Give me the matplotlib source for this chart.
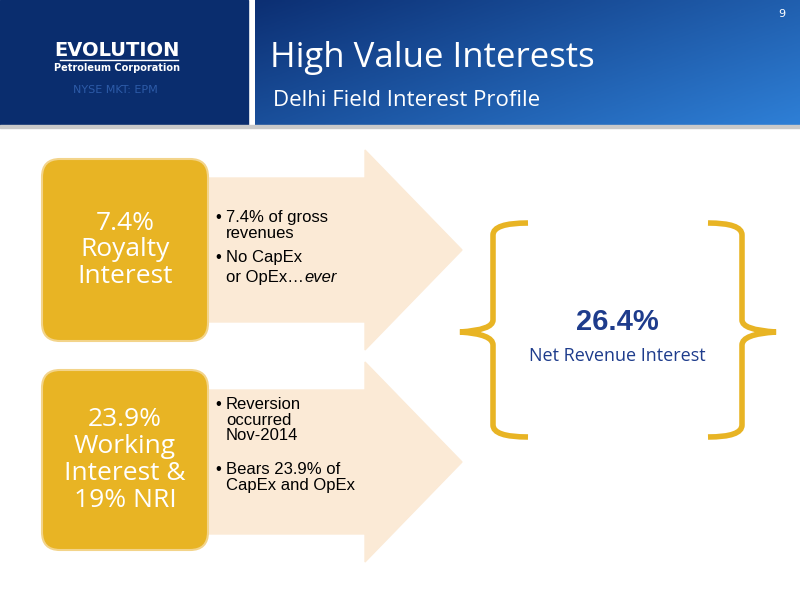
import numpy as np
import matplotlib.pyplot as plt
from matplotlib.patches import Rectangle, FancyBboxPatch, Polygon
from matplotlib.path import Path
from matplotlib.patches import PathPatch

# slide content
title = "High Value Interests"
subtitle = "Delhi Field Interest Profile"
page = "9"
box_labels = ["7.4%\nRoyalty\nInterest", "23.9%\nWorking\nInterest &\n19% NRI"]
bullets = [["7.4% of gross\nrevenues", "No CapEx"],
           ["Reversion\noccurred\nNov-2014", "Bears 23.9% of\nCapEx and OpEx"]]
total_value = "26.4%"
total_label = "Net Revenue Interest"

gold = "#E8B424"
beige = "#FBEAD6"
textblue = "#1E3C8C"

fig = plt.figure(figsize=(8, 6), dpi=100)
ax = fig.add_axes([0, 0, 1, 1])
ax.set_xlim(0, 800)
ax.set_ylim(600, 0)
ax.axis("off")

# header
ax.add_patch(Rectangle((0, 0), 248, 125, color="#0A2D6E"))
grad = np.linspace(0, 1, 200)[None, :] * 0.6 + np.linspace(0, 1, 60)[:, None] * 0.4
ax.imshow(grad, cmap=plt.matplotlib.colors.LinearSegmentedColormap.from_list(
    "g", ["#0C2F73", "#2E7FD6"]), extent=(255, 800, 125, 0), aspect="auto", zorder=1)
ax.add_patch(Rectangle((0, 125), 800, 3, color="#C9C9C9"))
ax.text(117, 50, "EVOLUTION", color="white", fontsize=14, weight="bold", ha="center",
        va="center", family="DejaVu Sans")
ax.plot([60, 178], [60, 60], color="white", lw=1)
ax.text(117, 68, "Petroleum Corporation", color="white", fontsize=7, weight="bold",
        ha="center", va="center")
ax.text(115, 90, "NYSE MKT: EPM", color="#2D5BA8", fontsize=8, ha="center", va="center")
ax.text(270, 58, title, color="white", fontsize=25, ha="left", va="center", zorder=3,
        family="Open Sans")
ax.text(273, 100, subtitle, color="white", fontsize=16, ha="left", va="center", zorder=3,
        family="Open Sans")
ax.text(785, 14, page, color="white", fontsize=8, ha="right", va="center", zorder=3)

# arrows and boxes
tips = [250, 462]
for i, ty in enumerate(tips):
    ax.add_patch(Polygon([(150, ty - 72), (365, ty - 72), (365, ty - 100), (462, ty),
                          (365, ty + 100), (365, ty + 72), (150, ty + 72)],
                         closed=True, color=beige, zorder=2))
    y0 = 157 if i == 0 else 368
    h = 186 if i == 0 else 184
    ax.add_patch(FancyBboxPatch((42, y0 + 2), 166, h - 4, boxstyle="round,pad=0,rounding_size=18",
                                facecolor=gold, edgecolor="#F3D48A", lw=1.5, zorder=3))
    ax.text(125, y0 + h / 2, box_labels[i], color="white", fontsize=19, ha="center",
            va="center", linespacing=1.1, zorder=4, family="Open Sans")

# bullets
by = [(210, 250), (397, 462)]
for i in range(2):
    for j, b in enumerate(bullets[i]):
        ax.text(215, by[i][j], "\u2022", fontsize=12, va="top", ha="left", zorder=4,
                family="Liberation Sans")
        ax.text(226, by[i][j], b, fontsize=12, va="top", ha="left", linespacing=1.05,
                family="Liberation Sans", zorder=4)
t = ax.text(226, 270, "or OpEx\u2026", fontsize=12, va="top", ha="left",
            family="Liberation Sans", zorder=4)
fig.canvas.draw()
bb = t.get_window_extent().transformed(ax.transData.inverted())
ax.text(bb.x1 + 1, 270, "ever", fontsize=12, style="italic", va="top", ha="left",
        family="Liberation Sans", zorder=4)

# braces
def brace(xv, xc, xp):
    verts = [(xc, 223), (xv, 223), (xv, 235), (xv, 320), (xv, 330), (xp, 332),
             (xv, 334), (xv, 345), (xv, 425), (xv, 437), (xc, 437)]
    codes = [Path.MOVETO, Path.CURVE3, Path.CURVE3, Path.LINETO, Path.CURVE3, Path.CURVE3,
             Path.CURVE3, Path.CURVE3, Path.LINETO, Path.CURVE3, Path.CURVE3]
    ax.add_patch(PathPatch(Path(verts, codes), fill=False, edgecolor=gold, lw=4, zorder=3))

brace(493, 528, 460)
brace(742, 708, 776)
ax.text(617, 322, total_value, color=textblue, fontsize=21, weight="bold", ha="center",
        va="center", family="Liberation Sans")
ax.text(617, 356, total_label, color=textblue, fontsize=13, ha="center", va="center",
        family="Open Sans")

fig.savefig("out.png", dpi=100)
